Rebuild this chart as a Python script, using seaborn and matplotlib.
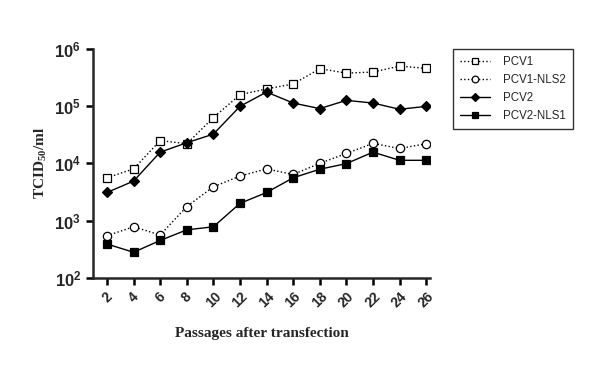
import numpy as np
import pandas as pd
import matplotlib
matplotlib.use("Agg")
import matplotlib.pyplot as plt
import seaborn as sns

passages = [2, 4, 6, 8, 10, 12, 14, 16, 18, 20, 22, 24, 26]
pcv1 = [5600, 8000, 25000, 22000, 63000, 158000, 200000, 243000, 450000, 377000, 393000, 500000, 455000]
pcv1_nls2 = [545, 780, 560, 1760, 3900, 6000, 8000, 6400, 10000, 14900, 22300, 18200, 22000]
pcv2 = [3100, 4900, 15700, 22900, 32400, 99000, 176000, 113000, 90500, 126000, 113000, 88000, 99000]
pcv2_nls1 = [390, 280, 450, 690, 780, 2000, 3100, 5600, 7900, 9900, 15700, 11300, 11300]

series = {"PCV1": pcv1, "PCV1-NLS2": pcv1_nls2, "PCV2": pcv2, "PCV2-NLS1": pcv2_nls1}
df = pd.concat([pd.DataFrame({"passage": passages, "titre": v, "virus": k}) for k, v in series.items()])

sns.set_style("ticks")
plt.rcParams['font.family'] = ['Liberation Sans', 'DejaVu Sans']
plt.rcParams['mathtext.fontset'] = 'custom'
plt.rcParams['mathtext.rm'] = 'Liberation Sans:bold'
plt.rcParams['mathtext.bf'] = 'Liberation Serif:bold'

fig = plt.figure(figsize=(6, 3.7), dpi=100)
ax = fig.add_axes([0.155, 0.249, 0.562, 0.619])

styles = {
    "PCV1": dict(marker="s", linestyle=":", mfc="white"),
    "PCV1-NLS2": dict(marker="o", linestyle=":", mfc="white"),
    "PCV2": dict(marker="D", linestyle="-", mfc="black"),
    "PCV2-NLS1": dict(marker="s", linestyle="-", mfc="black"),
}
for name in series:
    st = styles[name]
    sns.lineplot(data=df[df.virus == name], x="passage", y="titre", ax=ax,
                 color="black", linewidth=1.0, linestyle=st["linestyle"],
                 marker=st["marker"], markersize=6 if st["marker"] != "D" else 5,
                 markerfacecolor=st["mfc"], markeredgecolor="black",
                 markeredgewidth=0.9, label=name)

ax.set_yscale("log")
ax.set_ylim(1e2, 1e6)
ax.set_xlim(0.95, 26.3)
ax.set_yticks([1e2, 1e3, 1e4, 1e5, 1e6])
ax.set_yticklabels([r"$\mathrm{10^{%d}}$" % e for e in range(2, 7)], fontsize=12)
ax.yaxis.set_minor_locator(matplotlib.ticker.NullLocator())
ax.set_xticks(passages)
ax.set_xticklabels([str(p) for p in passages], rotation=45, fontsize=10,
                   fontweight="bold", ha="center", va="top")
ax.tick_params(direction="out", length=5, width=1.8, color="black")
for s in ["left", "bottom"]:
    ax.spines[s].set_linewidth(1.8)
sns.despine(ax=ax)

ax.set_xlabel("Passages after transfection", fontsize=11, fontweight="bold",
              family="Liberation Serif", labelpad=12)
ax.set_ylabel(r"$\mathbf{TCID_{50}/ml}$", fontsize=11, labelpad=4)

leg = ax.legend(loc="upper left", bbox_to_anchor=(0.755, 0.868), bbox_transform=fig.transFigure,
                frameon=True, fancybox=False, edgecolor="black", fontsize=8.3,
                handlelength=2.6, handletextpad=1.1, borderpad=0.65, labelspacing=0.5,
                borderaxespad=0, markerscale=0.8)
leg.get_frame().set_linewidth(1.0)

fig.savefig("out.png", dpi=100)
